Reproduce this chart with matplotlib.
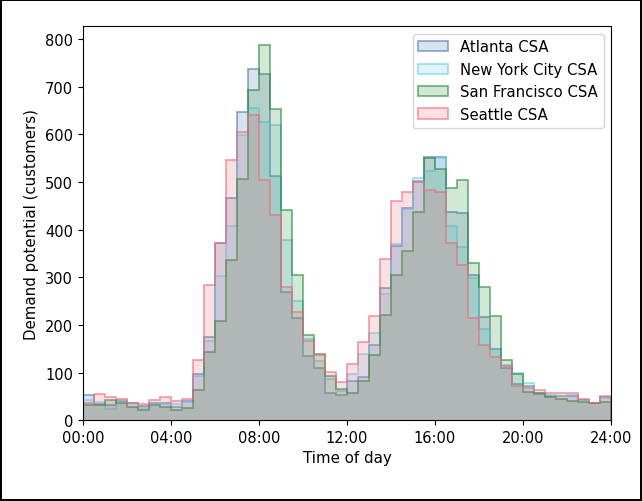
import numpy as np
import matplotlib
matplotlib.use("Agg")
import matplotlib.pyplot as plt
import matplotlib.ticker as ticker
from matplotlib.patches import Patch

# half-hour bins over one day
bin_edges = np.arange(0, 24.5, 0.5)
tick_hours = [0, 4, 8, 12, 16, 20, 24]

atlanta = [53, 35, 32, 41, 36, 30, 37, 36, 28, 41, 97, 174, 372, 466, 648, 737,
           727, 513, 270, 214, 134, 109, 58, 53, 83, 90, 158, 278, 366, 446, 500, 552,
           552, 438, 436, 304, 216, 150, 110, 76, 72, 55, 51, 51, 51, 42, 37, 49]
new_york = [42, 38, 23, 43, 36, 25, 37, 35, 33, 38, 93, 167, 303, 408, 598, 655,
            627, 619, 378, 250, 170, 125, 86, 62, 97, 139, 184, 265, 370, 443, 508, 524,
            550, 408, 363, 298, 191, 150, 115, 99, 79, 58, 52, 50, 52, 42, 37, 47]
san_francisco = [32, 32, 42, 36, 27, 22, 32, 27, 21, 25, 64, 144, 209, 337, 506, 694,
                 788, 653, 441, 305, 178, 139, 93, 65, 58, 83, 137, 221, 305, 355, 438, 550,
                 528, 487, 504, 331, 279, 219, 127, 98, 59, 58, 48, 44, 41, 38, 37, 39]
seattle = [37, 55, 48, 44, 37, 34, 42, 48, 41, 44, 127, 284, 373, 546, 605, 640,
           504, 430, 280, 228, 167, 137, 102, 81, 118, 165, 218, 338, 460, 480, 503, 484,
           480, 373, 325, 215, 157, 132, 113, 71, 67, 64, 57, 57, 58, 44, 36, 51]

regions = ["Atlanta CSA", "New York City CSA", "San Francisco CSA", "Seattle CSA"]
series = [atlanta, new_york, san_francisco, seattle]
colors = ["#4477AA", "#66CCEE", "#228833", "#EE6677"]

fig = plt.figure(figsize=(6.42, 5.02), dpi=100)
fig.patch.set_edgecolor("black")
fig.patch.set_linewidth(1.5)
ax = fig.add_axes([0.129, 0.161, 0.823, 0.785])

handles = []
for name, vals, c in zip(regions, series, colors):
    ax.stairs(vals, bin_edges, fill=True, color=c, alpha=0.2, linewidth=0)
    ax.stairs(vals, bin_edges, color=c, alpha=0.6, linewidth=1.3)
    rgb = matplotlib.colors.to_rgb(c)
    handles.append(Patch(facecolor=(*rgb, 0.2), edgecolor=(*rgb, 0.6),
                         linewidth=1.3, label=name))

ax.set_xlim(0, 24)
ax.set_ylim(0, max(max(s) for s in series) * 1.05)
ax.set_xticks(tick_hours)
ax.xaxis.set_major_formatter(ticker.FuncFormatter(lambda h, _: f"{int(h):02d}:00"))
ax.yaxis.set_major_locator(ticker.MultipleLocator(100))
ax.tick_params(labelsize=10.5)

ax.set_xlabel("Time of day", fontsize=10.8)
ax.set_ylabel("Demand potential (customers)", fontsize=10.8)
ax.legend(handles=handles, loc="upper right", fontsize=10.7)

fig.savefig("out.png", dpi=100)
